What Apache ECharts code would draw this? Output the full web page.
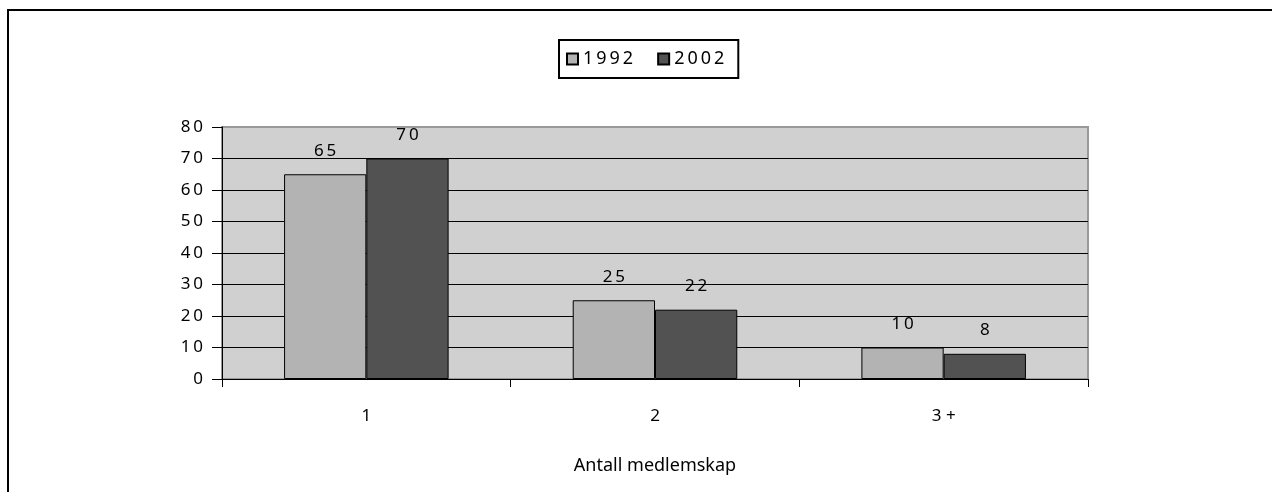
<!DOCTYPE html>
<html>
<head>
<meta charset="utf-8">
<script src="https://cdn.jsdelivr.net/npm/echarts@6/dist/echarts.min.js"></script>
<style>
html,body{margin:0;padding:0;background:#fff;}
#chart{width:1272px;height:492px;position:absolute;left:0;top:0;}
#frame{position:absolute;left:7px;top:9px;width:1400px;height:600px;border-left:2px solid #000;border-top:2px solid #000;pointer-events:none;}
</style>
</head>
<body>
<div id="chart"></div>
<div id="frame"></div>
<script>
const categories = ['1', '2', '3+'];
const years = ['1992', '2002'];
const values1992 = [65, 25, 10];
const values2002 = [70, 22, 8];
const yTicks = [0, 10, 20, 30, 40, 50, 60, 70, 80];

const FONT = 'Noto Sans';
const spaced = s => String(s).split('').join('\u2009');

const chart = echarts.init(document.getElementById('chart'));
chart.setOption({
  animation: false,
  backgroundColor: 'transparent',
  textStyle: { fontFamily: FONT, color: '#000' },
  legend: {
    data: years,
    left: 559,
    top: 40,
    padding: [10, 14, 10, 7],
    borderColor: '#000',
    borderWidth: 2,
    itemWidth: 11,
    itemHeight: 11,
    itemGap: 24,
    icon: 'rect',
    formatter: n => spaced(n),
    textStyle: { fontFamily: FONT, fontSize: 18, color: '#000' }
  },
  grid: {
    left: 222, right: 184, top: 127, bottom: 113,
    show: true,
    backgroundColor: '#d0d0d0',
    borderColor: '#999',
    borderWidth: 2
  },
  xAxis: {
    type: 'category',
    data: categories,
    name: 'Antall medlemskap',
    nameLocation: 'middle',
    nameGap: 78,
    nameTextStyle: { fontFamily: FONT, fontSize: 18, color: '#000' },
    axisLine: { lineStyle: { color: '#000', width: 1 } },
    axisTick: { show: true, length: 8, alignWithLabel: false, lineStyle: { color: '#000' } },
    axisLabel: { margin: 29, fontFamily: FONT, fontSize: 17, color: '#000', formatter: v => String(v).split('').join(' ') },
    splitLine: { show: false }
  },
  yAxis: {
    type: 'value',
    min: 0, max: 80, interval: 10,
    axisLine: { show: true, lineStyle: { color: '#000', width: 1 } },
    axisTick: { show: true, length: 10, lineStyle: { color: '#000' } },
    axisLabel: { margin: 19, fontFamily: FONT, fontSize: 17, color: '#000', formatter: v => spaced(v) },
    splitLine: { show: true, lineStyle: { color: yTicks.map(t => t === 80 ? '#999' : '#000'), width: 1 } }
  },
  series: [
    {
      name: years[0], type: 'bar', data: values1992,
      barGap: '0%', barCategoryGap: '43%',
      itemStyle: { color: '#b3b3b3', borderColor: '#000', borderWidth: 1 },
      label: { show: true, position: 'top', distance: 15, fontFamily: FONT, fontSize: 17, color: '#000', formatter: p => spaced(p.value) }
    },
    {
      name: years[1], type: 'bar', data: values2002,
      barGap: '0%', barCategoryGap: '43%',
      itemStyle: { color: '#525252', borderColor: '#000', borderWidth: 1 },
      label: { show: true, position: 'top', distance: 15, fontFamily: FONT, fontSize: 17, color: '#000', formatter: p => spaced(p.value) }
    }
  ]
});
</script>
</body>
</html>
